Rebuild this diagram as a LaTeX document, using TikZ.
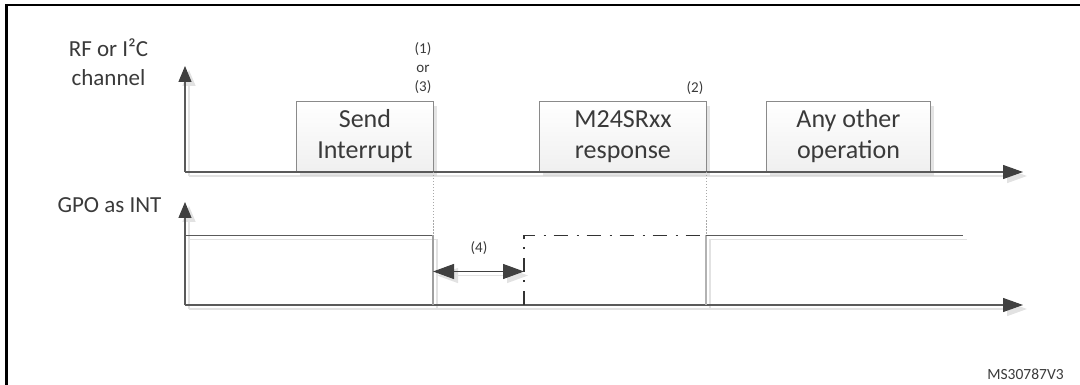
\documentclass[tikz,border=0pt]{standalone}
\usepackage{fontspec}
\setmainfont{Carlito}
\usetikzlibrary{arrows.meta,shadows}
\definecolor{ln}{HTML}{5A5A5A}
\definecolor{hd}{HTML}{404040}
\definecolor{sh}{HTML}{E2E2E2}
\definecolor{tx}{HTML}{3A3A3A}
\definecolor{bd}{HTML}{8A8A8A}
\definecolor{dt}{HTML}{A8A8A8}
\begin{document}
\begin{tikzpicture}[x=1pt,y=-1pt,
  axisline/.style={draw=ln,line width=1.1pt,-{Triangle[length=20pt,width=14pt,fill=hd,color=hd]}},
  vaxis/.style={draw=ln,line width=1.1pt,-{Triangle[length=16pt,width=13pt,fill=hd,color=hd]}},
  shline/.style={draw=sh,line width=1.6pt},
  shaxis/.style={draw=sh,line width=1.6pt,-{Triangle[length=20pt,width=14pt,fill=sh,color=sh]}},
  shvaxis/.style={draw=sh,line width=1.6pt,-{Triangle[length=16pt,width=13pt,fill=sh,color=sh]}},
  sig/.style={draw=ln,line width=1.1pt},
  edge/.style={draw=gray!75,line width=1.1pt},
  dotline/.style={draw=dt,line width=1pt,dash pattern=on 1.5pt off 1.5pt},
  dashdot/.style={draw=black!80,line width=1.6pt,dash pattern=on 14pt off 9pt on 2pt off 8pt},
  opbox/.style={draw=bd,line width=0.9pt,top color=white,bottom color=gray!12,
    font=\fontsize{26}{31}\selectfont,text=tx,align=center,inner sep=0pt,
    minimum height=70pt,
    drop shadow={shadow xshift=4pt,shadow yshift=-4pt,fill=gray!35,opacity=0.6}},
  axlabel/.style={font=\fontsize{23}{29}\selectfont,text=tx,align=center,inner sep=0pt},
  small/.style={font=\fontsize{15}{19}\selectfont,text=tx,align=center,inner sep=0pt},
  dim/.style={draw=hd,line width=1.1pt,{Triangle[length=21pt,width=15pt,fill=hd,color=hd]}-{Triangle[length=21pt,width=15pt,fill=hd,color=hd]}}
]
\useasboundingbox (0,0) rectangle (1080,385);
% frame
\draw[black,line width=2.6pt] (6.5,385) -- (6.5,5) -- (1081,5);

% coordinates
\coordinate (o1) at (185,172);
\coordinate (y1) at (185,66);
\coordinate (x1) at (1023,172);
\coordinate (o2) at (185,305);
\coordinate (y2) at (185,202);
\coordinate (x2) at (1023,305);
\coordinate (o1s) at (189,176);
\coordinate (y1s) at (189,70);
\coordinate (x1s) at (1027,176);
\coordinate (o2s) at (189,309);
\coordinate (y2s) at (189,206);
\coordinate (x2s) at (1027,309);

% axis shadows
\draw[shaxis] (o1s) -- (x1s);
\draw[shvaxis] (o1s) -- (y1s);
\draw[shaxis] (o2s) -- (x2s);
\draw[shvaxis] (o2s) -- (y2s);

% GPO signal coordinates
\coordinate (g0) at (185,235.5);
\coordinate (g1) at (433,235.5);
\coordinate (g1b) at (433,305);
\coordinate (d0) at (524,305);
\coordinate (d1) at (524,235.5);
\coordinate (d2) at (706,235.5);
\coordinate (d2b) at (706,305);
\coordinate (g3) at (963,235.5);
\coordinate (t1) at (433,172);
\coordinate (t2) at (706,172);

% signal shadows
\draw[shline] (189,239.5) -- (437,239.5) -- (437,309);
\draw[shline] (710,239.5) -- (967,239.5);
\draw[shline] (710,239.5) -- (710,309);

% boxes
\node[opbox,minimum width=137pt,anchor=south west] (send) at (296,172) {Send\\Interrupt};
\node[opbox,minimum width=167pt,anchor=south west] (resp) at (539,172) {M24SRxx\\response};
\node[opbox,minimum width=164pt,anchor=south west] (other) at (766,172) {Any other\\operation};

% axes
\draw[axisline] (o1) -- (x1);
\draw[vaxis] (o1) -- (y1);
\draw[axisline] (o2) -- (x2);
\draw[vaxis] (o2) -- (y2);

% dotted markers
\draw[dotline] (t1) -- (g1);
\draw[dotline] (t2) -- (d2);

% GPO signal
\draw[sig] (g0) -- (g1);
\draw[edge] (g1) -- (g1b);
\draw[dashdot] (d0) -- (d1) -- (d2);
\draw[edge,draw=gray!60] (d2) -- (d2b);
\draw[sig] (d2) -- (g3);

% (4) dimension arrow
\coordinate (a4l) at (433,271.5);
\coordinate (a4r) at (524,271.5);
\draw[draw=sh,line width=1.4pt,{Triangle[length=21pt,width=15pt,fill=sh,color=sh]}-{Triangle[length=21pt,width=15pt,fill=sh,color=sh]}] (437,275.5) -- (528,275.5);
\draw[dim] (a4l) -- (a4r);

% labels
\node[axlabel] (lrf) at (108.5,62) {RF or I²C\\channel};
\node[axlabel] (lgpo) at (109.5,205) {GPO as INT};
\node[small] (l13) at (423,68) {(1)\\or\\(3)};
\node[small] (l2) at (695,88) {(2)};
\node[small] (l4) at (479,248) {(4)};
\node[small,font=\fontsize{15.5}{19}\selectfont] (ref) at (1025.5,374) {MS30787V3};
\end{tikzpicture}
\end{document}
